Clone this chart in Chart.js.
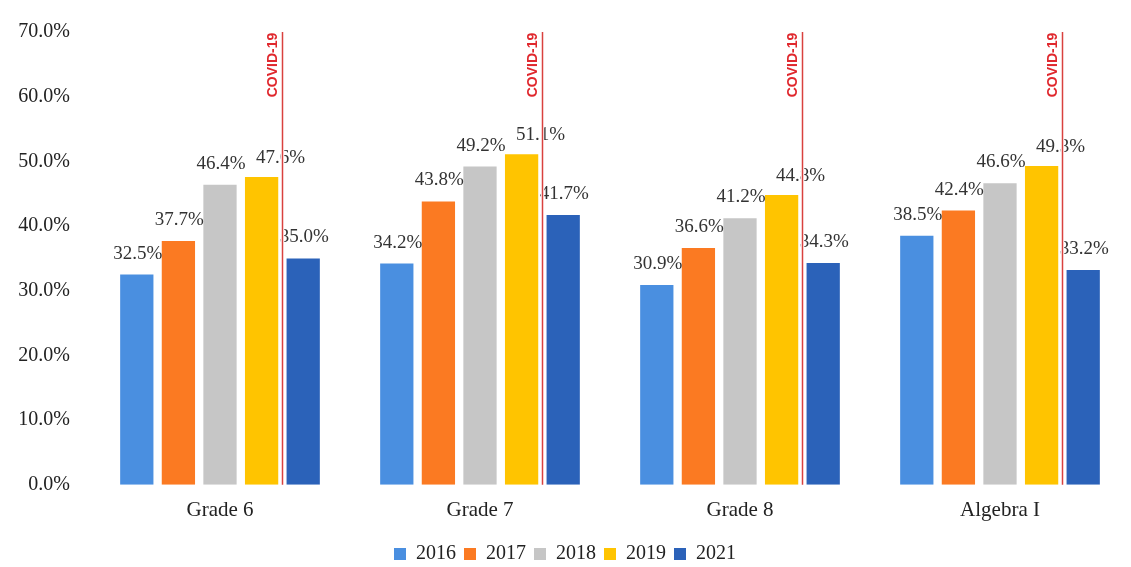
<!DOCTYPE html>
<html>
<head>
<meta charset="utf-8">
<script src="https://cdn.jsdelivr.net/npm/chart.js@4/dist/chart.umd.min.js"></script>
<style>
  html, body { margin: 0; padding: 0; background: #fff; }
  #wrap { width: 1131px; height: 567px; }
</style>
</head>
<body>
<div id="wrap"><canvas id="chart"></canvas></div>
<script>
// categories and series
const grades = ['Grade 6', 'Grade 7', 'Grade 8', 'Algebra I']
const years = ['2016', '2017', '2018', '2019', '2021']
const y2016 = [32.5, 34.2, 30.9, 38.5]
const y2017 = [37.7, 43.8, 36.6, 42.4]
const y2018 = [46.4, 49.2, 41.2, 46.6]
const y2019 = [47.6, 51.1, 44.8, 49.3]
const y2021 = [35.0, 41.7, 34.3, 33.2]
const yTicks = [0, 10, 20, 30, 40, 50, 60, 70]

const colors = ['#4a8fe0', '#fb7a22', '#c6c6c6', '#ffc400', '#2b62b9']
const serif = '"Liberation Serif", "Times New Roman", serif'

// value labels above each bar (the 2019 ones sit a bit to the right)
const barLabels = {
  id: 'barLabels',
  afterDatasetsDraw(chart) {
    const ctx = chart.ctx
    ctx.save()
    ctx.font = '19px ' + serif
    ctx.fillStyle = '#333'
    ctx.textAlign = 'center'
    ctx.textBaseline = 'alphabetic'
    chart.data.datasets.forEach((ds, i) => {
      const dx = i === 3 ? 19 : 1
      const dy = i === 3 ? 14 : 16
      chart.getDatasetMeta(i).data.forEach((bar, j) => {
        ctx.fillText(ds.data[j].toFixed(1) + '%', bar.x + dx, bar.y - dy)
      })
    })
    ctx.restore()
  }
}

// red COVID-19 marker between the 2019 and 2021 bars
const covidLine = {
  id: 'covidLine',
  afterDraw(chart) {
    const ctx = chart.ctx
    const yScale = chart.scales.y
    const m19 = chart.getDatasetMeta(3).data
    const m21 = chart.getDatasetMeta(4).data
    const top = yScale.getPixelForValue(70)
    const bottom = yScale.getPixelForValue(0)
    m19.forEach((b, j) => {
      const right19 = b.x + b.width / 2
      const left21 = m21[j].x - m21[j].width / 2
      const x = Math.round(right19 + (left21 - right19) * 0.45) + 0.5
      ctx.save()
      ctx.strokeStyle = '#fff'
      ctx.lineWidth = 3.5
      ctx.beginPath()
      ctx.moveTo(x, top + 70)
      ctx.lineTo(x, bottom - 2)
      ctx.stroke()
      ctx.strokeStyle = '#d9413f'
      ctx.lineWidth = 1.5
      ctx.beginPath()
      ctx.moveTo(x, top)
      ctx.lineTo(x, bottom)
      ctx.stroke()
      ctx.translate(x - 2, top + 33)
      ctx.rotate(-Math.PI / 2)
      ctx.font = 'bold 14px "Liberation Sans", Arial, sans-serif'
      ctx.fillStyle = '#e0282e'
      ctx.textAlign = 'center'
      ctx.textBaseline = 'bottom'
      ctx.fillText('COVID-19', 0, 0)
      ctx.restore()
    })
  }
}

// pull the legend closer to the bottom edge
const legendFit = {
  id: 'legendFit',
  beforeInit(chart) {
    const fit = chart.legend.fit
    chart.legend.fit = function () {
      fit.call(this)
      this.height -= 7
    }
  }
}

const series = [y2016, y2017, y2018, y2019, y2021]

new Chart(document.getElementById('chart'), {
  type: 'bar',
  data: {
    labels: grades,
    datasets: years.map((yr, i) => ({
      label: yr,
      data: series[i],
      backgroundColor: colors[i],
      borderWidth: 0,
      categoryPercentage: 0.8,
      barPercentage: 0.8
    }))
  },
  options: {
    responsive: true,
    maintainAspectRatio: false,
    animation: false,
    layout: { padding: { top: 18, right: 1, left: 0, bottom: 0 } },
    scales: {
      x: {
        grid: { display: false, drawTicks: false },
        border: { display: false },
        ticks: { color: '#222', font: { family: serif, size: 21 }, padding: 13 }
      },
      y: {
        min: 0,
        max: 70,
        afterBuildTicks(axis) {
          axis.ticks = yTicks.map(v => ({ value: v }))
        },
        afterFit(axis) { axis.width = 90 },
        grid: { display: false, drawTicks: false },
        border: { display: false },
        ticks: {
          color: '#222',
          font: { family: serif, size: 20 },
          padding: 20,
          callback: v => v.toFixed(1) + '%'
        }
      }
    },
    plugins: {
      tooltip: { enabled: false },
      legend: {
        position: 'bottom',
        labels: {
          color: '#222',
          font: { family: serif, size: 20 },
          boxWidth: 12,
          boxHeight: 12,
          padding: 8
        }
      }
    }
  },
  plugins: [barLabels, covidLine, legendFit]
})
</script>
</body>
</html>
